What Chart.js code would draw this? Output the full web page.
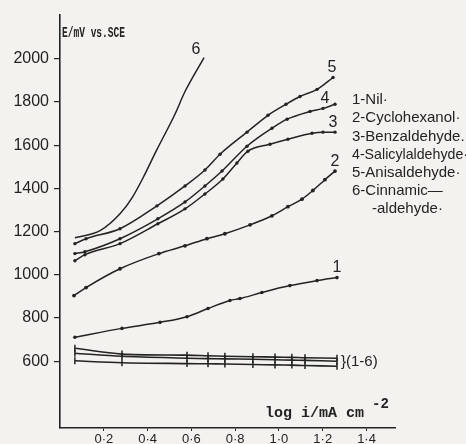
<!DOCTYPE html>
<html>
<head>
<meta charset="utf-8">
<script src="https://cdn.jsdelivr.net/npm/chart.js"></script>
<style>
  html, body { margin: 0; padding: 0; background: #f3f2ee; }
  #wrap { width: 466px; height: 444px; position: relative; }
</style>
</head>
<body>
<div id="wrap"><canvas id="myChart"></canvas></div>
<script>
const xTicks = [0.2, 0.4, 0.6, 0.8, 1.0, 1.2, 1.4];
const yTicks = [600, 800, 1000, 1200, 1400, 1600, 1800, 2000];

const legendLines = [
  '1-Nil·',
  '2-Cyclohexanol·',
  '3-Benzaldehyde.',
  '4-Salicylaldehyde·',
  '5-Anisaldehyde·',
  '6-Cinnamic\u2014'
];
const legendTail = '-aldehyde·';
const curveNames = ['1', '2', '3', '4', '5', '6'];
const groupLabel = '}(1-6)';

// anodic curves, log i vs E
const nilX = [0.068, 0.283, 0.457, 0.580, 0.676, 0.776, 0.822, 0.922, 1.050, 1.174, 1.265];
const nilY = [711, 752, 780, 806, 844, 881, 890, 918, 950, 973, 987];

const cycloX = [0.064, 0.119, 0.274, 0.452, 0.571, 0.671, 0.753, 0.868, 0.968, 1.041, 1.105, 1.155, 1.210, 1.256];
const cycloY = [904, 941, 1028, 1098, 1134, 1167, 1190, 1231, 1273, 1315, 1350, 1390, 1440, 1480];

const benzX = [0.068, 0.114, 0.274, 0.447, 0.571, 0.662, 0.744, 0.808, 0.858, 0.959, 1.041, 1.151, 1.201, 1.256];
const benzY = [1065, 1093, 1144, 1236, 1305, 1374, 1443, 1517, 1572, 1604, 1627, 1655, 1660, 1660];

const salX = [0.068, 0.114, 0.274, 0.447, 0.571, 0.662, 0.740, 0.854, 0.968, 1.037, 1.142, 1.201, 1.256];
const salY = [1098, 1107, 1167, 1259, 1337, 1411, 1480, 1595, 1678, 1720, 1756, 1770, 1789];

const anisX = [0.068, 0.119, 0.274, 0.443, 0.571, 0.662, 0.731, 0.854, 0.950, 1.032, 1.096, 1.174, 1.247];
const anisY = [1144, 1167, 1213, 1319, 1411, 1485, 1558, 1660, 1738, 1789, 1825, 1858, 1913];

const cinnX = [0.068, 0.183, 0.274, 0.329, 0.379, 0.443, 0.525, 0.571, 0.658];
const cinnY = [1171, 1204, 1282, 1356, 1448, 1580, 1743, 1848, 2005];

// cathodic group (1-6)
const groupX = [0.068, 0.283, 0.580, 0.676, 0.753, 0.881, 0.982, 1.059, 1.119, 1.265];
const groupTopY = [660, 633, 628, 625, 623, 621, 619, 618, 616, 614];
const groupMidY = [637, 623, 614, 612, 611, 609, 607, 605, 604, 600];
const groupLowY = [602, 593, 589, 588, 587, 585, 583, 582, 580, 577];

const ink = '#232323';

function pts(xs, ys) {
  return xs.map((x, i) => ({ x: x, y: ys[i] }));
}

function curve(xs, ys, radius) {
  return {
    data: pts(xs, ys),
    showLine: true,
    borderColor: ink,
    backgroundColor: ink,
    borderWidth: 1.5,
    pointRadius: radius,
    pointBorderWidth: 0,
    cubicInterpolationMode: 'monotone'
  };
}

function flat(xs, ys) {
  return {
    data: pts(xs, ys),
    showLine: true,
    borderColor: ink,
    backgroundColor: ink,
    borderWidth: 1.6,
    pointStyle: 'line',
    rotation: 90,
    pointRadius: 3.5,
    pointBorderWidth: 1.5,
    tension: 0.3
  };
}

const datasets = [
  curve(nilX, nilY, 1.8),
  curve(cycloX, cycloY, 1.9),
  curve(benzX, benzY, 1.7),
  curve(salX, salY, 1.7),
  curve(anisX, anisY, 1.7),
  curve(cinnX, cinnY, 0),
  flat(groupX, groupTopY),
  flat(groupX, groupMidY),
  flat(groupX, groupLowY)
];

// where each curve number sits relative to the curve end
const numberOffset = [[0, -10], [0, -9], [-2, -10], [-10, -6], [-1, -10], [-8, -8]];

const annot = {
  id: 'annot',
  afterDatasetsDraw(chart) {
    const ctx = chart.ctx;
    const xs = chart.scales.x, ys = chart.scales.y;
    ctx.save();
    ctx.fillStyle = ink;
    ctx.textBaseline = 'middle';

    // curve numbers
    ctx.font = '16px "Liberation Sans", Arial, sans-serif';
    ctx.textAlign = 'center';
    for (let i = 0; i < 6; i++) {
      const d = chart.data.datasets[i].data;
      const last = d[d.length - 1];
      const px = xs.getPixelForValue(last.x) + numberOffset[i][0];
      const py = ys.getPixelForValue(last.y) + numberOffset[i][1];
      ctx.fillText(curveNames[i], px, py);
    }

    // group label
    const g = chart.data.datasets[7].data;
    const gl = g[g.length - 1];
    ctx.textAlign = 'left';
    ctx.font = '15px "Liberation Sans", Arial, sans-serif';
    ctx.fillText(groupLabel, xs.getPixelForValue(gl.x) + 4, ys.getPixelForValue(gl.y) + 1);

    // legend
    ctx.font = '15px "Liberation Sans", Arial, sans-serif';
    legendLines.forEach((t, i) => {
      ctx.fillText(t, 352, 100 + i * 18.2, 116);
    });
    ctx.fillText(legendTail, 372, 209);

    // axis titles
    ctx.font = 'bold 15px "Liberation Mono", "DejaVu Sans Mono", monospace';
    ctx.fillText('E/mV vs.SCE', 62, 33, 63);
    ctx.font = 'bold 15px "Liberation Mono", "DejaVu Sans Mono", monospace';
    ctx.fillText('log i/mA cm', 265, 413, 104);
    ctx.font = 'bold 14px "Liberation Mono", "DejaVu Sans Mono", monospace';
    ctx.fillText('-2', 372, 404);
    ctx.restore();
  }
};

const config = {
  type: 'scatter',
  data: { datasets: datasets },
  plugins: [annot],
  options: {
    responsive: true,
    maintainAspectRatio: false,
    animation: false,
    layout: { padding: { top: 13, right: 71, left: 0, bottom: 0 } },
    plugins: {
      legend: { display: false },
      tooltip: { enabled: false }
    },
    scales: {
      x: {
        type: 'linear',
        min: 0,
        max: 1.53,
        afterBuildTicks: s => { s.ticks = xTicks.map(v => ({ value: v })); },
        afterFit: s => { s.height = 16; },
        border: { display: true, color: ink, width: 1.6 },
        grid: { display: true, drawOnChartArea: false, color: ink, tickLength: 3, lineWidth: 1 },
        ticks: {
          color: ink,
          padding: 1,
          font: { family: '"Liberation Sans", Arial, sans-serif', size: 13 },
          callback: v => v.toFixed(1).replace('.', '·')
        }
      },
      y: {
        type: 'linear',
        min: 291,
        max: 2204,
        afterBuildTicks: s => { s.ticks = yTicks.map(v => ({ value: v })); },
        afterFit: s => { s.width = 60; },
        border: { display: true, color: ink, width: 1.6 },
        grid: { display: true, drawOnChartArea: false, color: ink, tickLength: 6, lineWidth: 1.2 },
        ticks: {
          color: ink,
          padding: 5,
          font: { family: '"Liberation Sans", Arial, sans-serif', size: 16 },
          callback: v => String(v)
        }
      }
    }
  }
};

const myChart = new Chart(document.getElementById('myChart'), config);
</script>
</body>
</html>
